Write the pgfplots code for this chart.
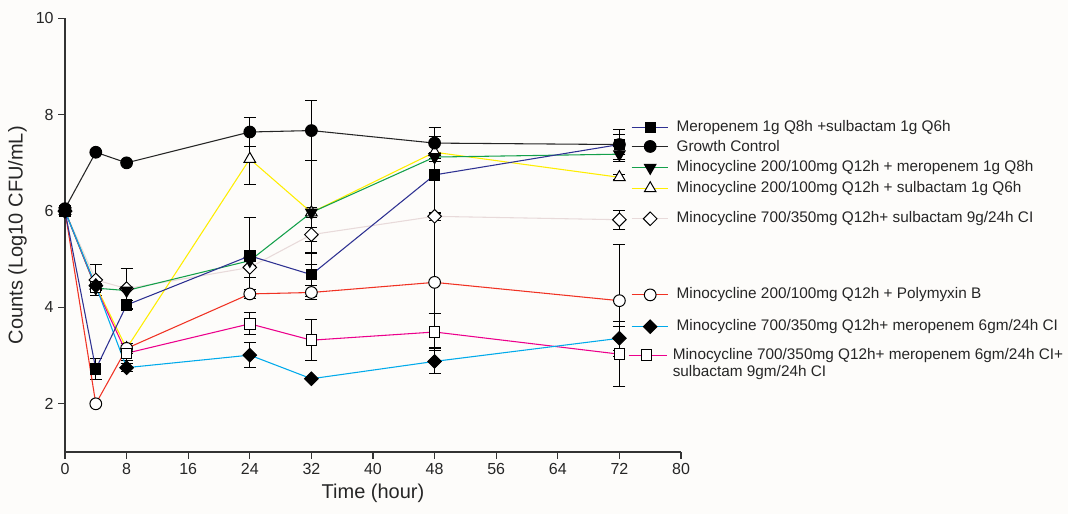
\documentclass[border=0pt]{standalone}
\usepackage{fontspec}
\setmainfont{Liberation Sans}
\usepackage{pgfplots}
\usepackage{pgfplotstable}
\pgfplotsset{compat=1.18}
\definecolor{bgc}{RGB}{253,252,250}
\definecolor{cnavy}{RGB}{46,49,146}
\definecolor{cgreen}{RGB}{20,160,75}
\definecolor{cyellow}{RGB}{255,238,0}
\definecolor{cpale}{RGB}{232,218,218}
\definecolor{cred}{RGB}{240,50,35}
\definecolor{ccyan}{RGB}{0,170,235}
\definecolor{cmag}{RGB}{236,0,140}

% time, mean, error (log10 CFU/mL)
\pgfplotstableread[row sep=\\]{x y e\\ 0 6.00 0\\ 4 2.72 0.22\\ 8 4.05 0.10\\ 24 5.07 0.80\\ 32 4.68 0.45\\ 48 6.75 0.80\\ 72 7.38 0.20\\}\meroSul
\pgfplotstableread[row sep=\\]{x y e\\ 0 6.05 0\\ 4 7.22 0\\ 8 7.00 0\\ 24 7.64 0.30\\ 32 7.67 0.63\\ 48 7.41 0.32\\ 72 7.38 0.32\\}\growth
\pgfplotstableread[row sep=\\]{x y e\\ 0 6.00 0\\ 4 4.40 0.05\\ 8 4.35 0\\ 24 4.97 0.10\\ 32 5.97 0.10\\ 48 7.12 0.10\\ 72 7.18 0.15\\}\minoMero
\pgfplotstableread[row sep=\\]{x y e\\ 0 6.00 0\\ 4 4.45 0.05\\ 8 3.15 0.10\\ 24 7.08 0.53\\ 32 5.97 1.08\\ 48 7.22 0.20\\ 72 6.70 0.05\\}\minoSul
\pgfplotstableread[row sep=\\]{x y e\\ 0 6.00 0\\ 4 4.57 0.33\\ 8 4.39 0.42\\ 24 4.83 0.20\\ 32 5.51 0.15\\ 48 5.89 0.08\\ 72 5.82 0.20\\}\minoHiSul
\pgfplotstableread[row sep=\\]{x y e\\ 0 6.00 0\\ 4 2.00 0\\ 8 3.15 0.10\\ 24 4.28 0.10\\ 32 4.31 0.15\\ 48 4.52 1.35\\ 72 4.14 1.16\\}\minoPoly
\pgfplotstableread[row sep=\\]{x y e\\ 0 6.00 0\\ 4 4.45 0.10\\ 8 2.75 0.08\\ 24 3.01 0.26\\ 32 2.52 0\\ 48 2.88 0.26\\ 72 3.36 0.25\\}\minoHiMero
\pgfplotstableread[row sep=\\]{x y e\\ 0 6.00 0\\ 4 4.42 0.05\\ 8 3.05 0.15\\ 24 3.66 0.23\\ 32 3.32 0.43\\ 48 3.49 0.38\\ 72 3.03 0.67\\}\minoTriple

\pgfplotsset{
  errplot/.style={forget plot, draw=none, mark=none,
    restrict expr to domain={\thisrow{e}}{0.01:100},
    error bars/.cd, y dir=both, y explicit,
    error bar style={draw=black, line width=0.8pt},
    error mark options={rotate=90, mark size=4.5pt, draw=black, line width=0.8pt}},
  mk/.style={mark options={draw=black, line width=0.75pt, solid, #1}},
  % marker styles of the eight series
  mSq/.style={mark=square*, mark size=3.9pt, mk={fill=black}},
  mSqO/.style={mark=square*, mark size=3.9pt, mk={fill=white}},
  mCi/.style={mark=*, mark size=4.4pt, mk={fill=black}},
  mCiO/.style={mark=*, mark size=4.4pt, mk={fill=white}},
  mDn/.style={mark=triangle*, mark size=5pt, mk={rotate=180, fill=black}},
  mUpO/.style={mark=triangle*, mark size=5pt, mk={fill=white}},
  mDi/.style={mark=square*, mark size=3.6pt, mk={rotate=45, fill=black}},
  mDiO/.style={mark=square*, mark size=3.6pt, mk={rotate=45, fill=white}},
}

\begin{document}
\begin{tikzpicture}
\path[use as bounding box, fill=bgc] (-48.75pt,-46.5pt) rectangle (752.25pt,339pt);
\begin{axis}[
  at={(0pt,0pt)}, anchor=south west,
  scale only axis, width=462pt, height=325.3pt,
  xmin=0, xmax=80, ymin=1, ymax=10,
  xtick={0,8,...,80}, ytick={2,4,...,10},
  axis x line*=bottom, axis y line*=left,
  axis line style={line width=1pt, -, black!80},
  tick align=outside, major tick length=5pt,
  tick style={line width=1pt, black!80},
  tick label style={font=\fontsize{12}{14}\selectfont, black!85},
  /pgf/number format/assume math mode=true,
  xlabel={Time (hour)}, ylabel={Counts (Log10 CFU/mL)},
  label style={font=\fontsize{15}{18}\selectfont, black!85},
  clip=false,
  every axis plot/.append style={line width=0.8pt},
]
% error bars first, markers drawn over them
\addplot[errplot] table[x=x, y=y, y error=e] {\meroSul};
\addplot[errplot] table[x=x, y=y, y error=e] {\growth};
\addplot[errplot] table[x=x, y=y, y error=e] {\minoMero};
\addplot[errplot] table[x=x, y=y, y error=e] {\minoSul};
\addplot[errplot] table[x=x, y=y, y error=e] {\minoHiSul};
\addplot[errplot] table[x=x, y=y, y error=e] {\minoPoly};
\addplot[errplot] table[x=x, y=y, y error=e] {\minoHiMero};
\addplot[errplot] table[x=x, y=y, y error=e] {\minoTriple};

% series
\addplot[cpale, mDiO] table[x=x, y=y] {\minoHiSul};
\addplot[cyellow, mUpO] table[x=x, y=y] {\minoSul};
\addplot[cgreen, mDn] table[x=x, y=y] {\minoMero};
\addplot[cred, mCiO] table[x=x, y=y] {\minoPoly};
\addplot[cmag, mSqO] table[x=x, y=y] {\minoTriple};
\addplot[ccyan, mDi] table[x=x, y=y] {\minoHiMero};
\addplot[cnavy, mSq] table[x=x, y=y] {\meroSul};
\addplot[black!85, mCi] table[x=x, y=y] {\growth};

% legend samples
\addplot[cnavy, mSq, mark indices={2}] coordinates {(73.6,7.73)(76,7.73)(78.3,7.73)};
\addplot[black!85, mCi, mark indices={2}] coordinates {(73.6,7.34)(76,7.34)(78.3,7.34)};
\addplot[cgreen, mDn, mark indices={2}] coordinates {(73.6,6.90)(76,6.90)(78.3,6.90)};
\addplot[cyellow, mUpO, mark indices={2}] coordinates {(73.6,6.47)(76,6.47)(78.3,6.47)};
\addplot[cpale, mDiO, mark indices={2}] coordinates {(73.6,5.84)(76,5.84)(78.3,5.84)};
\addplot[cred, mCiO, mark indices={2}] coordinates {(73.6,4.26)(76,4.26)(78.3,4.26)};
\addplot[ccyan, mDi, mark indices={2}] coordinates {(73.6,3.60)(76,3.60)(78.3,3.60)};
\addplot[cmag, mSqO, mark indices={2}] coordinates {(73.2,3.01)(75.5,3.01)(78.2,3.01)};

\begin{scope}[every node/.style={anchor=west, inner sep=0pt, font=\fontsize{11.5}{12.5}\selectfont, text=black!85}]
\node at (axis cs:79.4,7.73) {Meropenem 1g Q8h +sulbactam 1g Q6h};
\node at (axis cs:79.4,7.34) {Growth Control};
\node at (axis cs:79.4,6.90) {Minocycline 200/100mg Q12h + meropenem 1g Q8h};
\node at (axis cs:79.4,6.47) {Minocycline 200/100mg Q12h + sulbactam 1g Q6h};
\node at (axis cs:79.4,5.84) {Minocycline 700/350mg Q12h+ sulbactam 9g/24h CI};
\node at (axis cs:79.4,4.26) {Minocycline 200/100mg Q12h + Polymyxin B};
\node at (axis cs:79.4,3.60) {Minocycline 700/350mg Q12h+ meropenem 6gm/24h CI};
\node[align=left] at (axis cs:78.9,2.83) {Minocycline 700/350mg Q12h+ meropenem 6gm/24h CI+\\sulbactam 9gm/24h CI};
\end{scope}
\end{axis}
\end{tikzpicture}
\end{document}
